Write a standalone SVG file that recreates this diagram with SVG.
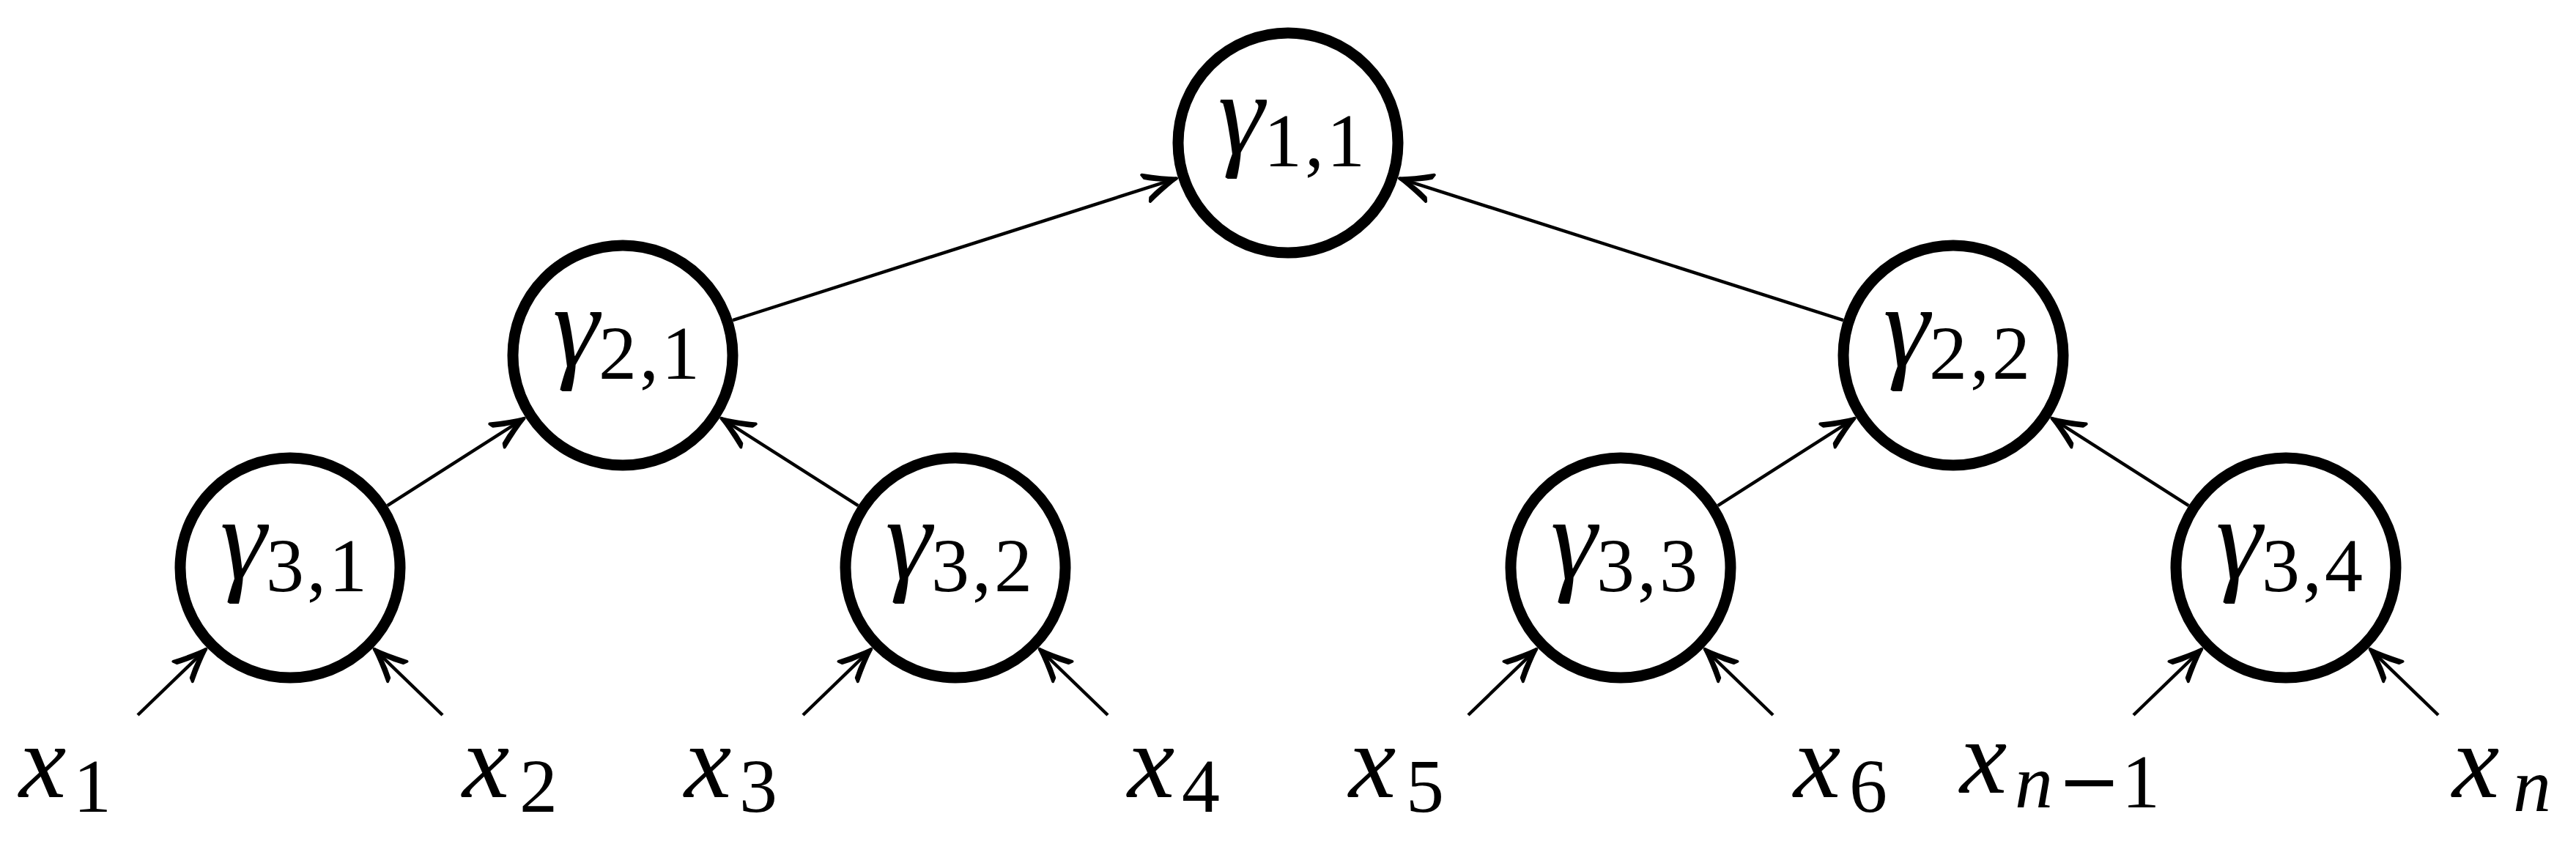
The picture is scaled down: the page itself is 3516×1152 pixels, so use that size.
<svg xmlns="http://www.w3.org/2000/svg" width="3516" height="1152" viewBox="0 0 3516 1152">
<defs>
<style>
.node circle{fill:#fff;stroke:#000;stroke-width:15}
.gm{font-family:'Liberation Serif','DejaVu Serif',serif;font-style:italic;font-size:160px;fill:#000;text-anchor:middle}
.it{font-family:'Liberation Serif','DejaVu Serif',serif;font-style:italic;font-size:145px;fill:#000}
.nd{font-family:'Liberation Serif','DejaVu Serif',serif;font-style:normal;font-size:104px;letter-spacing:4px;fill:#000}
.sb{font-family:'Liberation Serif','DejaVu Serif',serif;font-style:normal;font-size:104px;fill:#000}
.sbi{font-family:'Liberation Serif','DejaVu Serif',serif;font-style:italic;font-size:104px;fill:#000}
.mn{font-family:'DejaVu Serif','Liberation Serif',serif;font-style:normal;font-size:104px;fill:#000}
.edges line{stroke:#000;stroke-width:4.5;fill:none;marker-end:url(#arr)}
</style>
<marker id="arr" markerUnits="userSpaceOnUse" viewBox="-50 -25 60 50" refX="0" refY="0" markerWidth="60" markerHeight="50" orient="auto" overflow="visible">
<path d="M -44,-19 Q -18,-6 0,0 Q -18,-1 -42,-14 Z M -44,19 Q -18,6 0,0 Q -18,1 -42,14 Z" fill="#000" stroke="#000" stroke-width="4" stroke-linejoin="round" stroke-linecap="round"/>
</marker>
</defs>
<rect width="3516" height="1152" fill="#fff"/>
<g class="edges" id="connectors">
<line x1="1000" y1="437.1" x2="1606" y2="243.5"/>
<line x1="2516" y1="437.1" x2="1910" y2="243.5"/>
<line x1="528.7" y1="690.2" x2="715.6" y2="570.9"/>
<line x1="1171.3" y1="690.2" x2="984.4" y2="570.9"/>
<line x1="2344.7" y1="690.2" x2="2531.6" y2="570.9"/>
<line x1="2987.3" y1="690.2" x2="2800.4" y2="570.9"/>
<line x1="188" y1="976" x2="281.3" y2="885.9"/>
<line x1="604" y1="976" x2="510.7" y2="885.9"/>
<line x1="1096" y1="976" x2="1189.3" y2="885.9"/>
<line x1="1512" y1="976" x2="1418.7" y2="885.9"/>
<line x1="2004" y1="976" x2="2097.3" y2="885.9"/>
<line x1="2420" y1="976" x2="2326.7" y2="885.9"/>
<line x1="2912" y1="976" x2="3005.3" y2="885.9"/>
<line x1="3328" y1="976" x2="3234.7" y2="885.9"/>
</g>
<g class="node" id="g11"><circle cx="1758" cy="195" r="150"/><text class="gm" x="1694" y="210">γ</text><text class="nd" x="1725" y="227">1,1</text></g>
<g class="node" id="g21"><circle cx="850" cy="485" r="150"/><text class="gm" x="786" y="500">γ</text><text class="nd" x="817" y="517">2,1</text></g>
<g class="node" id="g22"><circle cx="2666" cy="485" r="150"/><text class="gm" x="2602" y="500">γ</text><text class="nd" x="2633" y="517">2,2</text></g>
<g class="node" id="g31"><circle cx="396" cy="775" r="150"/><text class="gm" x="332" y="790">γ</text><text class="nd" x="363" y="807">3,1</text></g>
<g class="node" id="g32"><circle cx="1304" cy="775" r="150"/><text class="gm" x="1240" y="790">γ</text><text class="nd" x="1271" y="807">3,2</text></g>
<g class="node" id="g33"><circle cx="2212" cy="775" r="150"/><text class="gm" x="2148" y="790">γ</text><text class="nd" x="2179" y="807">3,3</text></g>
<g class="node" id="g34"><circle cx="3120" cy="775" r="150"/><text class="gm" x="3056" y="790">γ</text><text class="nd" x="3087" y="807">3,4</text></g>
<g id="x1"><text class="it" x="26" y="1088">x</text><text class="sb" x="100" y="1108">1</text></g>
<g id="x2"><text class="it" x="631" y="1088">x</text><text class="sb" x="709" y="1108">2</text></g>
<g id="x3"><text class="it" x="934" y="1088">x</text><text class="sb" x="1009" y="1108">3</text></g>
<g id="x4"><text class="it" x="1539" y="1088">x</text><text class="sb" x="1613" y="1108">4</text></g>
<g id="x5"><text class="it" x="1841" y="1088">x</text><text class="sb" x="1919" y="1108">5</text></g>
<g id="x6"><text class="it" x="2448" y="1088">x</text><text class="sb" x="2524" y="1108">6</text></g>
<g id="xn1"><text class="it" x="2675" y="1082">x</text><text class="sbi" x="2750" y="1102">n</text><text class="mn" x="2808" y="1102">−</text><text class="sb" x="2896" y="1102">1</text></g>
<g id="xn"><text class="it" x="3347" y="1088">x</text><text class="sbi" x="3430" y="1107">n</text></g>
</svg>
